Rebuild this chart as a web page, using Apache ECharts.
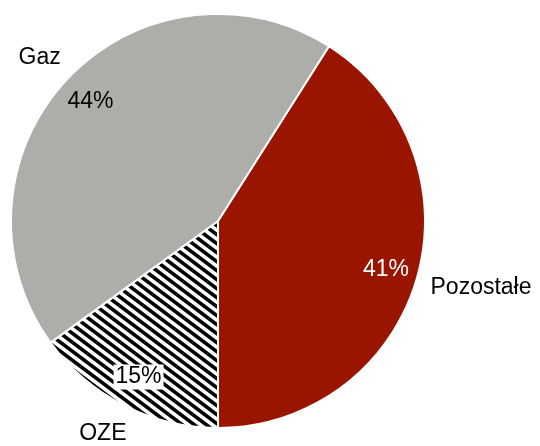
<!DOCTYPE html>
<html>
<head>
    <meta charset="utf-8">
    <title>Pie</title>
    <script src="https://cdn.jsdelivr.net/npm/echarts@6/dist/echarts.min.js"></script>
    <style>
        html, body { margin: 0; padding: 0; background: #fff; }
    </style>
</head>
<body>
    <div id="main" style="width: 540px;height:446px;"></div>
    <script type="text/javascript">
        // dane (udział w %)
        var names = ['Pozostałe', 'OZE', 'Gaz'];
        var shares = [41, 15, 44];

        var font = "'Liberation Sans', Arial, sans-serif";
        var red = '#9a1500';
        var gray = '#adada9';

        // kreskowanie dla OZE
        function hatch() {
            var w = 12, h = 9;
            var c = document.createElement('canvas');
            c.width = w;
            c.height = h;
            var ctx = c.getContext('2d');
            ctx.fillStyle = '#fff';
            ctx.fillRect(0, 0, w, h);
            ctx.strokeStyle = '#000';
            ctx.lineWidth = 3.6;
            for (var k = -1; k <= 1; k++) {
                ctx.beginPath();
                ctx.moveTo(-w, -h + k * h);
                ctx.lineTo(2 * w, 2 * h + k * h);
                ctx.stroke();
            }
            return c;
        }

        var fills = [red, { image: hatch(), repeat: 'repeat' }, gray];

        var myChart = echarts.init(document.getElementById('main'));

        var option = {
            animation: false,
            backgroundColor: '#fff',
            series: [{
                type: 'pie',
                center: [218, 221],
                radius: 207,
                startAngle: 57.6,
                clockwise: true,
                silent: true,
                itemStyle: { borderColor: '#fff', borderWidth: 2 },
                label: {
                    show: true,
                    position: 'outside',
                    fontFamily: font,
                    fontSize: 23,
                    color: '#000',
                    formatter: '{b}'
                },
                labelLine: { show: false, length: 32, length2: -22 },
                avoidLabelOverlap: false,
                bleedMargin: 0,
                data: names.map(function (n, i) {
                    return { name: n, value: shares[i], itemStyle: { color: fills[i] } };
                })
            }, {
                type: 'pie',
                center: [218, 221],
                radius: [137, 207],
                startAngle: 57.6,
                clockwise: true,
                silent: true,
                itemStyle: { color: 'transparent', borderWidth: 0 },
                label: {
                    show: true,
                    position: 'inside',
                    fontFamily: font,
                    fontSize: 23,
                    color: '#000',
                    formatter: function (p) { return p.value + '%'; }
                },
                labelLine: { show: false },
                data: names.map(function (n, i) {
                    var item = { name: n, value: shares[i] };
                    if (i === 0) item.label = { color: '#fff' };
                    if (i === 1) item.label = { backgroundColor: '#fff', padding: [1, 2] };
                    return item;
                })
            }]
        };

        myChart.setOption(option);
    </script>
</body>
</html>
